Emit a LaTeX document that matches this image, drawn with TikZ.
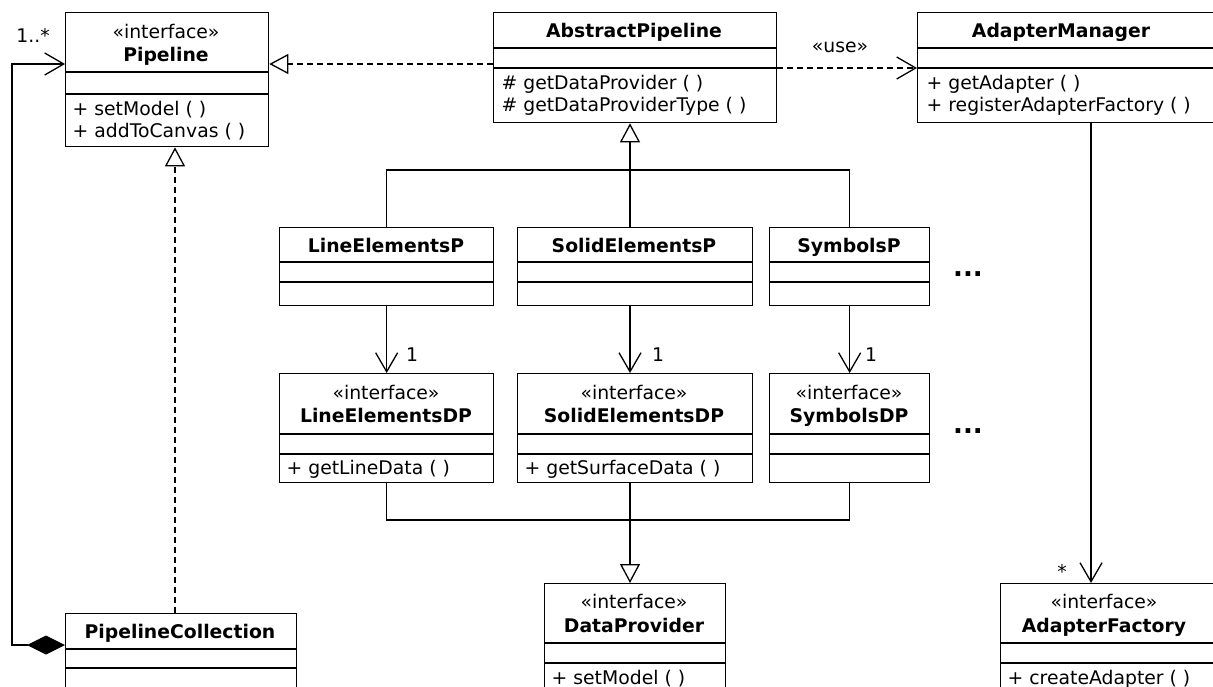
\documentclass[tikz,border=0pt]{standalone}
\usepackage{fontspec}
\setmainfont{DejaVu Sans}
\usetikzlibrary{arrows.meta,calc}
\newcommand\umlbox[7]{%
  \node[box, minimum width=#4pt, minimum height=#5pt] (#1) at (#2,#3) {};
  \draw ([yshift=-#6pt]#1.north west) -- ([yshift=-#6pt]#1.north east);
  \draw ([yshift=-#7pt]#1.north west) -- ([yshift=-#7pt]#1.north east);
}
\begin{document}
\begin{tikzpicture}[x=1pt,y=-1pt, line width=1.3pt,
  font=\fontsize{18.8}{22}\selectfont,
  box/.style={draw, rectangle, inner sep=0pt, anchor=north west},
  txt/.style={inner sep=0pt, anchor=base},
  meth/.style={inner sep=0pt, anchor=base west},
  lbl/.style={inner sep=0pt},
  more/.style={inner sep=0pt, anchor=base, font=\fontsize{26}{28}\selectfont\bfseries},
  assoc/.style={-{Straight Barb[length=19pt,width=22pt,line width=1.3pt]}},
  gen/.style={-{Triangle[length=19pt,width=20pt,fill=white,line width=1.3pt]}},
  real/.style={gen, dash pattern=on 6pt off 4pt},
  dep/.style={assoc, dash pattern=on 6pt off 4pt},
  comp/.style={{Diamond[length=38pt,width=19pt]}-{Straight Barb[length=19pt,width=22pt,line width=1.3pt]}},
]
\useasboundingbox (0,0) rectangle (1213,686);
\clip (0,0) rectangle (1213,686);

% boxes
\umlbox{pipe}{65}{12}{203}{134}{60}{82}
\node[txt] (pipeS) at (166,38) {«interface»};
\node[txt] (pipeN) at (166,61) {\bfseries Pipeline};
\node[meth] (pipeM1) at (72,115) {+ setModel ( )};
\node[meth] (pipeM2) at (72,137) {+ addToCanvas ( )};

\umlbox{abs}{493}{12}{283}{110}{36}{56}
\node[txt] (absN) at (634,37) {\bfseries AbstractPipeline};
\node[meth] (absM1) at (501,89) {\# getDataProvider ( )};
\node[meth] (absM2) at (501,111) {\# getDataProviderType ( )};

\umlbox{mgr}{917}{12}{300}{110}{36}{56}
\node[txt] (mgrN) at (1061,37) {\bfseries AdapterManager};
\node[meth] (mgrM1) at (926,89) {+ getAdapter ( )};
\node[meth] (mgrM2) at (926,111) {+ registerAdapterFactory ( )};

\umlbox{lep}{279}{227}{214}{78}{35}{55}
\node[txt] (lepN) at (386,252) {\bfseries LineElementsP};
\umlbox{sep}{517}{227}{235}{78}{35}{55}
\node[txt] (sepN) at (634,252) {\bfseries SolidElementsP};
\umlbox{syp}{769}{227}{160}{78}{35}{55}
\node[txt] (sypN) at (849,252) {\bfseries SymbolsP};
\node[more] (dots1) at (968,276) {...};

\umlbox{ledp}{279}{373}{214}{109}{61}{81}
\node[txt] (ledpS) at (386,399) {«interface»};
\node[txt] (ledpN) at (386,422) {\bfseries LineElementsDP};
\node[meth] (ledpM) at (286,474) {+ getLineData ( )};
\umlbox{sedp}{517}{373}{235}{109}{61}{81}
\node[txt] (sedpS) at (634,399) {«interface»};
\node[txt] (sedpN) at (634,422) {\bfseries SolidElementsDP};
\node[meth] (sedpM) at (524,474) {+ getSurfaceData ( )};
\umlbox{sydp}{769}{373}{160}{109}{61}{81}
\node[txt] (sydpS) at (849,399) {«interface»};
\node[txt] (sydpN) at (849,422) {\bfseries SymbolsDP};
\node[more] (dots2) at (968,433) {...};

\umlbox{dp}{544}{583}{181}{130}{60}{80}
\node[txt] (dpS) at (634,608) {«interface»};
\node[txt] (dpN) at (634,632) {\bfseries DataProvider};
\node[meth] (dpM) at (551,684) {+ setModel ( )};

\umlbox{pc}{65}{613}{231}{100}{36}{55}
\node[txt] (pcN) at (180,638) {\bfseries PipelineCollection};

\umlbox{af}{1000}{583}{220}{130}{60}{80}
\node[txt] (afS) at (1104,608) {«interface»};
\node[txt] (afN) at (1104,632) {\bfseries AdapterFactory};
\node[meth] (afM) at (1007,684) {+ createAdapter ( )};

% helper coordinates
\coordinate (yPipe) at (0,64);
\coordinate (yUse) at (0,68);
\coordinate (xReal) at (175,0);
\coordinate (yComp) at (0,645);
\coordinate (xLeft) at (12,0);
\coordinate (xMgr) at (1091,0);
\coordinate (jt) at (630,170);
\coordinate (jb) at (630,520);

% connectors
\draw[real] (abs.west |- yPipe) -- (pipe.east |- yPipe);
\draw[dep] (abs.east |- yUse) -- (mgr.west |- yUse);
\node[lbl] (use) at (840,47) {«use»};
\draw[real] (xReal |- pc.north) -- (xReal |- pipe.south);
\draw[comp] (pc.west |- yComp) -- (xLeft |- yComp) -- (xLeft |- yPipe) -- (pipe.west |- yPipe);
\node[lbl] (mult1) at (33,36) {1..*};
\draw[assoc] (xMgr |- mgr.south) -- (xMgr |- af.north);
\node[lbl] (mult2) at (1062,572) {*};

\draw[gen] (jt) -- (jt |- abs.south);
\draw (lep.north) |- (jt);
\draw (syp.north) |- (jt);
\draw (jt) -- (jt |- sep.north);

\draw[assoc] (lep.south) -- (ledp.north);
\draw[assoc] (jt |- sep.south) -- (jt |- sedp.north);
\draw[assoc] (syp.south) -- (sydp.north);
\node[lbl] (m1) at (412,355) {1};
\node[lbl] (m2) at (658,355) {1};
\node[lbl] (m3) at (871,355) {1};

\draw (ledp.south) |- (jb);
\draw (sydp.south) |- (jb);
\draw[gen] (jb |- sedp.south) -- (jb |- dp.north);
\end{tikzpicture}
\end{document}
